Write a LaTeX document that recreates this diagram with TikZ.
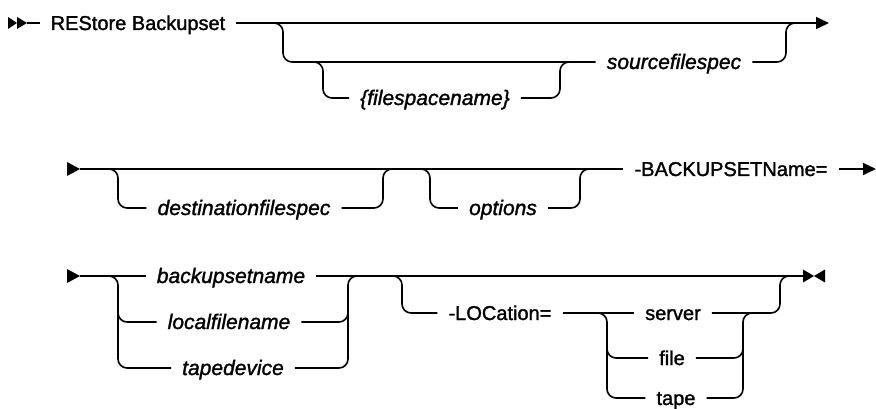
\documentclass[tikz,border=0pt]{standalone}
\usepackage{fontspec}
\setmainfont{Liberation Sans}
\newfontfamily\railfont[FakeBold=1.5]{Liberation Sans}
\usetikzlibrary{calc,positioning,arrows.meta}
\tikzset{
  railLine/.style={draw=black, line width=1.6pt, rounded corners=9pt},
  railArrow/.style={draw=black, line width=1.6pt, -{Triangle[length=13pt,width=12pt]}},
  railTip/.style={fill=black},
  keyWord/.style={inner xsep=11pt, inner ysep=0pt, text height=14pt, text depth=0pt, font=\railfont\fontsize{20pt}{24pt}\selectfont},
  varWord/.style={keyWord, font=\railfont\fontsize{21pt}{25pt}\selectfont\itshape}
}

\begin{document}
\begin{tikzpicture}[x=1pt, y=-1pt]
  \useasboundingbox (0,0) rectangle (876,409);

  % Row 1
  \coordinate (r1start) at (27,23);
  \coordinate (r1end) at (829,23);
  \fill[railTip] (8,17) -- (17,23) -- (8,29) -- cycle;
  \fill[railTip] (17,17) -- (27,23) -- (17,29) -- cycle;
  \node[keyWord] (title) at (138,23) {REStore Backupset};
  \node[varWord] (srcSpec) at (674,62) {sourcefilespec};
  \node[varWord] (fsName) at (435,98) {\{filespacename\}};

  \draw[railLine] (r1start) -- (title.west);
  \draw[railArrow] (title.east) -- (r1end);
  \draw[railLine] (262,23) -| (283,62) -- (srcSpec.west);
  \draw[railLine] (srcSpec.east) -| (786,23) -- (800,23);
  \draw[railLine] (308,62) -| (323,98) -- (fsName.west);
  \draw[railLine] (fsName.east) -| (560,62) -- (575,62);

  % Row 2
  \coordinate (r2start) at (80,169);
  \coordinate (r2end) at (876,169);
  \fill[railTip] (67,162) -- (r2start) -- (67,176) -- cycle;
  \node[varWord] (dstSpec) at (244,208) {destinationfilespec};
  \node[varWord] (optName) at (503,208) {options};
  \node[keyWord] (bsName) at (731,169) {-BACKUPSETName=};

  \draw[railLine] (r2start) -- (bsName.west);
  \draw[railArrow] (bsName.east) -- (r2end);
  \draw[railLine] (100,169) -| (118,208) -- (dstSpec.west);
  \draw[railLine] (dstSpec.east) -| (383,169) -- (398,169);
  \draw[railLine] (410,169) -| (430,208) -- (optName.west);
  \draw[railLine] (optName.east) -| (580,169) -- (595,169);

  % Row 3
  \coordinate (r3start) at (80,276);
  \coordinate (r3end) at (803,276);
  \fill[railTip] (67,269) -- (r3start) -- (67,283) -- cycle;
  \fill[railTip] (803,269.5) -- (814,276) -- (803,282.5) -- cycle;
  \fill[railTip] (825,269.5) -- (814,276) -- (825,282.5) -- cycle;
  \node[varWord] (bsetName) at (231,276) {backupsetname};
  \node[varWord] (lclName) at (229,322) {localfilename};
  \node[varWord] (tapDev) at (233,368) {tapedevice};
  \node[keyWord] (locKey) at (500,313) {-LOCation=};
  \node[keyWord] (srvKey) at (673,313) {server};
  \node[keyWord] (filKey) at (672,358) {file};
  \node[keyWord] (tapKey) at (676,398) {tape};

  \draw[railLine] (r3start) -- (bsetName.west);
  \draw[railLine] (100,276) -| (118,368) -- (tapDev.west);
  \draw[railLine] (118,300) |- (lclName.west);
  \draw[railLine] (tapDev.east) -| (348,276) -- (362,276);
  \draw[railLine] (lclName.east) -| (348,300);
  \draw[railLine] (bsetName.east) -- (r3end);

  \draw[railLine] (385,276) -| (402,313) -- (locKey.west);
  \draw[railLine] (locKey.east) -- (srvKey.west);
  \draw[railLine] (590,313) -| (607,398) -- (tapKey.west);
  \draw[railLine] (607,335) |- (filKey.west);
  \draw[railLine] (tapKey.east) -| (743,313) -- (757,313);
  \draw[railLine] (filKey.east) -| (743,335);
  \draw[railLine] (srvKey.east) -| (780,276) -- (794,276);
\end{tikzpicture}
\end{document}
